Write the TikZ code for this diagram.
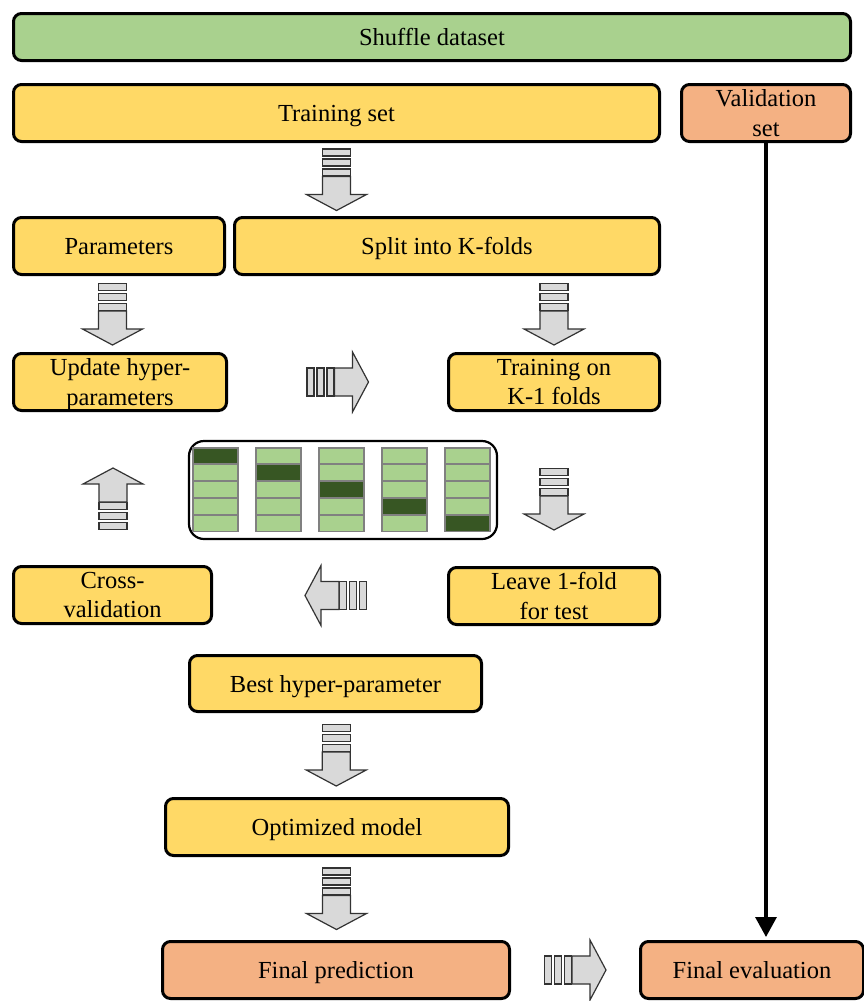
\documentclass[tikz,border=0pt]{standalone}
\usepackage{fontspec}
\setmainfont{Liberation Serif}
\usetikzlibrary{calc,arrows.meta}
\definecolor{boxgreen}{HTML}{A9D18E}
\definecolor{boxyellow}{HTML}{FFD966}
\definecolor{boxorange}{HTML}{F4B183}
\definecolor{folddark}{HTML}{375623}
\definecolor{arrowgray}{HTML}{D9D9D9}
\begin{document}
\begin{tikzpicture}[x=1pt,y=-1pt,
		font=\fontsize{24.5}{29.5}\selectfont,
		box/.style={draw=black, line width=3pt, rounded corners=8pt, inner sep=0pt, text depth=0pt, align=center},
		greenbox/.style={box, fill=boxgreen},
		yellowbox/.style={box, fill=boxyellow},
		orangebox/.style={box, fill=boxorange},
		barline/.style={draw=black!80, line width=1.2pt, fill=arrowgray},
		cell/.style={draw=black!50, line width=1.2pt, fill=boxgreen},
		blockarrow/.pic={
			\foreach \s in {0,10,20}
				\draw[barline] (-30.5+\s,-14) rectangle (-23.5+\s,14);
			\draw[barline] (-3,-14) -- (15,-14) -- (15,-30) -- (31,0) -- (15,30) -- (15,14) -- (-3,14) -- cycle;
		}]
	\useasboundingbox (0,0) rectangle (863,1001);
	% boxes
	\node[greenbox, minimum width=837, minimum height=47] (shuffle) at (432,37) {Shuffle dataset};
	\node[yellowbox, minimum width=646, minimum height=57] (train) at (336.5,113) {Training set};
	\node[orangebox, minimum width=169, minimum height=57] (valid) at (766,113) {Validation\\set};
	\node[yellowbox, minimum width=211, minimum height=57] (params) at (119,246) {Parameters};
	\node[yellowbox, minimum width=425, minimum height=57] (split) at (447,246) {Split into K-folds};
	\node[yellowbox, minimum width=213, minimum height=57] (update) at (120,382) {Update hyper-\\parameters};
	\node[yellowbox, minimum width=211, minimum height=57] (trainon) at (554,382) {Training on\\K-1 folds};
	\node[draw=black, line width=2.2pt, rounded corners=15pt, minimum width=308, minimum height=98] (folds) at (343,490) {};
	\node[yellowbox, minimum width=198, minimum height=57] (cross) at (112.5,595) {Cross-\\validation};
	\node[yellowbox, minimum width=211, minimum height=57] (leave) at (554,596) {Leave 1-fold\\for test};
	\node[yellowbox, minimum width=292, minimum height=56] (best) at (335.5,683.5) {Best hyper-parameter};
	\node[yellowbox, minimum width=343, minimum height=57] (optim) at (337,827) {Optimized model};
	\node[orangebox, minimum width=347, minimum height=57] (fpred) at (336,970) {Final prediction};
	\node[orangebox, minimum width=223, minimum height=57] (feval) at (752,970) {Final evaluation};
	% folds
	\foreach \c in {0,...,4}
		\foreach \r in {0,...,4}
			\draw[cell] (193+63*\c,448+16.8*\r) rectangle ++(45,16);
	\foreach \c in {0,...,4}
		\draw[cell, fill=folddark] (193+63*\c,448+16.8*\c) rectangle ++(45,16);
	% block arrows
	\pic[rotate=-90] at ($(train.south)!0.5!(train.south |- split.north)$) {blockarrow};
	\pic[rotate=-90] at ([xshift=-7pt]$(params.south)!0.5!(update.north)$) {blockarrow};
	\pic[rotate=-90] at ($(split.south -| trainon.north)!0.5!(trainon.north)$) {blockarrow};
	\pic at ($(update.east)!0.5!(trainon.west)$) {blockarrow};
	\pic[rotate=-90] at ([yshift=-9pt]trainon.south |- folds.center) {blockarrow};
	\pic[rotate=90] at ([xshift=-7pt,yshift=-9pt]update.south |- folds.center) {blockarrow};
	\pic[rotate=180] at ([xshift=6pt]$(cross.east)!0.5!(leave.west)$) {blockarrow};
	\pic[rotate=-90] at ($(best.south)!0.5!(optim.north)$) {blockarrow};
	\pic[rotate=-90] at ($(optim.south)!0.5!(fpred.north)$) {blockarrow};
	\pic at ($(fpred.east)!0.5!(feval.west)$) {blockarrow};
	% validation path
	\draw[line width=3.2pt, -{Triangle[width=21pt,length=20pt]}, shorten >=3pt] (valid.south) -- (valid.south |- feval.north);
\end{tikzpicture}
\end{document}
